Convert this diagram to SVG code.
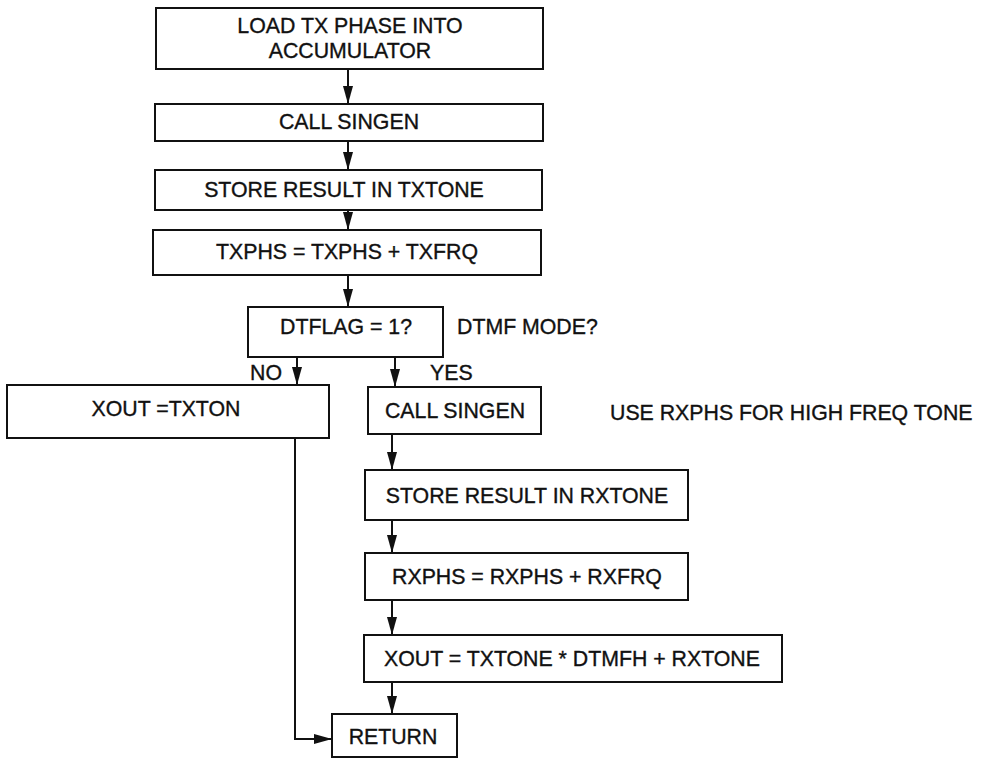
<svg xmlns="http://www.w3.org/2000/svg" width="989" height="763" viewBox="0 0 989 763">
<style>
.box{fill:#fff;stroke:#111;stroke-width:2}
.t{font-family:"Liberation Sans",Arial,sans-serif;font-size:21.3px;fill:#111;stroke:#111;stroke-width:0.35;text-anchor:middle;dominant-baseline:central}
.l{font-family:"Liberation Sans",Arial,sans-serif;font-size:21.3px;fill:#111;stroke:#111;stroke-width:0.35;dominant-baseline:central}
.c{fill:none;stroke:#111;stroke-width:2}
</style>
<defs>
<marker id="ah" viewBox="0 0 18 10" refX="18" refY="5" markerWidth="18" markerHeight="10" markerUnits="userSpaceOnUse" orient="auto">
<path d="M0,0 L18,5 L0,10 z" fill="#111"/>
</marker>
</defs>
<rect width="989" height="763" fill="#fff"/>
<g id="connectors">
<line class="c" x1="348" y1="69" x2="348" y2="104" marker-end="url(#ah)"/>
<line class="c" x1="348" y1="141" x2="348" y2="170" marker-end="url(#ah)"/>
<line class="c" x1="348" y1="210" x2="348" y2="230" marker-end="url(#ah)"/>
<line class="c" x1="348" y1="275" x2="348" y2="307" marker-end="url(#ah)"/>
<line class="c" x1="297" y1="357" x2="297" y2="385" marker-end="url(#ah)"/>
<line class="c" x1="395" y1="357" x2="395" y2="387" marker-end="url(#ah)"/>
<line class="c" x1="392" y1="434" x2="392" y2="470" marker-end="url(#ah)"/>
<line class="c" x1="392" y1="520" x2="392" y2="553" marker-end="url(#ah)"/>
<line class="c" x1="392" y1="600" x2="392" y2="635" marker-end="url(#ah)"/>
<line class="c" x1="392" y1="682" x2="392" y2="714" marker-end="url(#ah)"/>
<polyline class="c" points="295,438 295,739 332,739" marker-end="url(#ah)"/>
</g>
<g id="n1"><rect class="box" x="156" y="8" width="387" height="61"/><text class="t" x="350" y="26">LOAD TX PHASE INTO</text><text class="t" x="350" y="51">ACCUMULATOR</text></g>
<g id="n2"><rect class="box" x="155" y="104" width="388" height="37"/><text class="t" x="349" y="122">CALL SINGEN</text></g>
<g id="n3"><rect class="box" x="155" y="170" width="387" height="40"/><text class="t" x="344" y="190">STORE RESULT IN TXTONE</text></g>
<g id="n4"><rect class="box" x="153" y="230" width="388" height="45"/><text class="t" x="347" y="252">TXPHS = TXPHS + TXFRQ</text></g>
<g id="n5"><rect class="box" x="248" y="307" width="195" height="50"/><text class="t" x="346" y="327">DTFLAG = 1?</text></g>
<g id="lbl-dtmf"><text class="l" x="457" y="327">DTMF MODE?</text></g>
<g id="lbl-no"><text class="l" x="250" y="373">NO</text></g>
<g id="lbl-yes"><text class="l" x="430" y="373">YES</text></g>
<g id="n6"><rect class="box" x="7" y="385" width="322" height="53"/><text class="t" x="166" y="409">XOUT =TXTON</text></g>
<g id="n7"><rect class="box" x="368" y="387" width="173" height="47"/><text class="t" x="455" y="411">CALL SINGEN</text></g>
<g id="lbl-use"><text class="l" x="610" y="413">USE RXPHS FOR HIGH FREQ TONE</text></g>
<g id="n8"><rect class="box" x="365" y="470" width="323" height="50"/><text class="t" x="527" y="496">STORE RESULT IN RXTONE</text></g>
<g id="n9"><rect class="box" x="365" y="553" width="323" height="47"/><text class="t" x="527" y="577">RXPHS = RXPHS + RXFRQ</text></g>
<g id="n10"><rect class="box" x="364" y="635" width="418" height="47"/><text class="t" x="572" y="659">XOUT = TXTONE * DTMFH + RXTONE</text></g>
<g id="n11"><rect class="box" x="332" y="714" width="125" height="43"/><text class="t" x="393" y="737">RETURN</text></g>
</svg>
